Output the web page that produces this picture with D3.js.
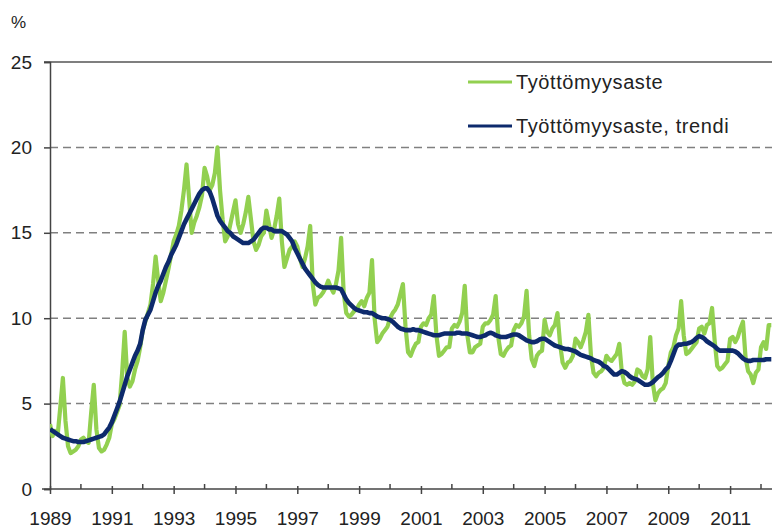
<!DOCTYPE html>
<html><head><meta charset="utf-8">
<script src="https://cdn.jsdelivr.net/npm/d3@7"></script>
<style>
html,body{margin:0;padding:0;background:#fff;}
svg{display:block;font-family:"Liberation Sans",Arial,sans-serif;}
</style></head>
<body><svg id="c" width="772" height="529"></svg>
<script>
const startYear = 1989;
const seriesNames = ["Työttömyysaste", "Työttömyysaste, trendi"];
const yTicks = [0, 5, 10, 15, 20, 25];
const majorYears = [1989,1991,1993,1995,1997,1999,2001,2003,2005,2007,2009,2011];
const minorYears = [1990,1992,1994,1996,1998,2000,2002,2004,2006,2008,2010,2012];

// monthly unemployment rate, Jan 1989 .. May 2012
const rate = [
 3.8,3.1,3.4,3.2,4.8,6.5,4.0,2.5,2.1,2.2,2.3,2.5,
 2.9,3.0,2.8,2.7,4.5,6.1,3.5,2.4,2.2,2.3,2.6,3.0,
 3.8,4.1,4.5,4.9,6.8,9.2,6.5,6.0,6.3,7.0,7.5,8.3,
 9.3,9.8,10.3,10.8,12.0,13.6,12.2,11.0,11.5,12.2,12.9,13.7,
 14.5,14.9,15.4,16.3,17.5,19.0,17.0,15.0,15.6,16.0,16.5,17.2,
 18.8,18.3,17.5,17.8,18.5,20.0,17.5,15.8,14.5,14.8,15.5,16.2,
 16.9,15.5,15.0,15.5,16.2,17.1,15.8,14.5,14.0,14.3,14.8,15.0,
 16.3,15.5,14.7,15.2,16.0,17.0,14.5,13.0,13.5,14.0,14.2,14.5,
 14.2,13.5,13.0,13.5,14.2,15.4,12.0,10.8,11.2,11.3,11.5,11.8,
 12.2,11.8,11.5,12.0,12.8,14.7,11.5,10.3,10.1,10.2,10.4,10.5,
 10.8,11.0,10.7,11.2,11.5,13.4,10.0,8.6,8.8,9.1,9.3,9.5,
 10.0,10.3,10.5,10.8,11.4,12.0,9.5,8.0,7.8,8.2,8.5,8.6,
 9.5,9.7,9.6,10.0,10.2,11.3,9.0,7.8,7.9,8.1,8.3,8.3,
 9.4,9.6,9.5,9.8,10.3,11.9,9.0,8.0,8.0,8.3,8.4,8.5,
 9.5,9.7,9.7,9.9,10.2,11.3,8.9,7.9,7.8,8.1,8.3,8.4,
 9.3,9.6,9.5,9.7,10.1,11.6,9.0,7.6,7.2,7.8,8.0,8.1,
 9.9,9.2,9.0,9.4,9.6,10.3,8.5,7.4,7.1,7.4,7.5,7.8,
 8.8,8.6,8.3,8.7,9.2,10.2,7.8,6.8,6.6,6.8,6.9,7.1,
 7.8,7.6,7.5,7.7,7.9,8.5,6.8,6.2,6.1,6.2,6.1,6.3,
 7.0,6.9,6.6,6.5,7.0,8.9,6.2,5.2,5.6,5.8,5.9,6.2,
 7.2,8.0,8.3,9.0,9.4,11.0,9.0,7.9,8.0,8.2,8.4,8.6,
 9.4,9.5,9.1,9.6,9.7,10.6,8.7,7.2,7.0,7.1,7.3,7.5,
 8.8,8.9,8.6,8.9,9.4,9.8,7.7,6.9,6.7,6.2,6.8,7.0,
 8.3,8.6,8.2,9.6,9.6
];
const trend = [
 3.5,3.4,3.3,3.2,3.1,3.0,2.95,2.9,2.85,2.8,2.8,2.75,
 2.75,2.75,2.8,2.85,2.9,2.95,3.0,3.05,3.1,3.2,3.4,3.6,
 3.9,4.3,4.7,5.1,5.6,6.1,6.6,7.0,7.4,7.8,8.1,8.5,
 9.3,9.9,10.2,10.5,11.0,11.5,11.9,12.2,12.6,13.0,13.3,13.7,
 14.0,14.3,14.7,15.1,15.5,15.8,16.1,16.4,16.7,17.0,17.3,17.5,
 17.6,17.6,17.4,17.0,16.5,16.0,15.7,15.5,15.3,15.1,15.0,14.8,
 14.7,14.6,14.5,14.4,14.4,14.4,14.5,14.6,14.8,15.0,15.2,15.3,
 15.3,15.2,15.2,15.1,15.1,15.1,15.1,15.0,14.9,14.7,14.5,14.1,
 13.8,13.5,13.2,12.9,12.7,12.5,12.3,12.1,11.95,11.85,11.8,11.8,
 11.8,11.8,11.8,11.8,11.75,11.7,11.4,11.1,10.9,10.75,10.6,10.5,
 10.45,10.4,10.35,10.35,10.3,10.3,10.2,10.1,10.05,10.0,10.0,9.95,
 9.9,9.8,9.65,9.5,9.4,9.35,9.3,9.3,9.3,9.35,9.3,9.3,
 9.25,9.2,9.15,9.1,9.05,9.0,9.0,9.0,9.05,9.1,9.1,9.1,
 9.1,9.1,9.15,9.15,9.1,9.1,9.1,9.05,9.0,8.95,8.9,8.9,
 8.95,9.0,9.1,9.15,9.1,9.0,8.95,8.9,8.9,8.9,8.95,9.0,
 9.05,9.05,9.0,8.9,8.8,8.7,8.65,8.6,8.6,8.65,8.75,8.8,
 8.8,8.7,8.6,8.5,8.4,8.35,8.3,8.25,8.2,8.2,8.15,8.1,
 8.05,7.95,7.85,7.8,7.75,7.7,7.65,7.55,7.5,7.45,7.35,7.2,
 7.15,7.0,6.85,6.7,6.7,6.8,6.9,6.85,6.75,6.6,6.5,6.45,
 6.4,6.3,6.2,6.1,6.1,6.15,6.25,6.4,6.55,6.65,6.8,7.0,
 7.15,7.5,7.9,8.3,8.45,8.45,8.5,8.5,8.55,8.6,8.7,8.85,
 8.95,8.9,8.8,8.65,8.55,8.45,8.35,8.2,8.1,8.1,8.1,8.1,
 8.1,8.1,8.05,7.95,7.8,7.65,7.55,7.5,7.5,7.55,7.55,7.55,
 7.55,7.55,7.6,7.6,7.6
];
const colors = ["#92d050", "#0d2a6c"];

const svg = d3.select("#c");
const W = 772, H = 529;
const mLeft = 50, mTop = 62, mBottom = 489;
const x = d3.scaleLinear().domain([1989, 2012]).range([mLeft, 761]);
const y = d3.scaleLinear().domain([0, 25]).range([mBottom, mTop]);

// gridlines
svg.append("g").selectAll("line").data(yTicks.filter(v => v > 0 && v < 25)).join("line")
  .attr("x1", mLeft).attr("x2", W).attr("y1", d => y(d)).attr("y2", d => y(d))
  .attr("stroke", "#808080").attr("stroke-width", 1.5).attr("stroke-dasharray", "8,5");
// top border
svg.append("line").attr("x1", 44).attr("x2", W).attr("y1", y(25)).attr("y2", y(25))
  .attr("stroke", "#555").attr("stroke-width", 1.5);

// y axis
const yAxis = d3.axisLeft(y).tickValues(yTicks).tickSize(6).tickPadding(12).tickFormat(d3.format("d"));
const gy = svg.append("g").attr("transform", `translate(${mLeft},0)`).call(yAxis);
gy.select(".domain").attr("stroke", "#444").attr("stroke-width", 1.5);
gy.selectAll(".tick line").attr("stroke", "#444").attr("stroke-width", 1.5);
gy.selectAll(".tick text").attr("font-size", 19).attr("fill", "#222")
  .attr("font-family", "Liberation Sans, Arial, sans-serif");

svg.append("text").attr("x", 11).attr("y", 28).text("%")
  .attr("font-size", 17).attr("fill", "#222");

// lines
const clip = svg.append("defs").append("clipPath").attr("id", "clp");
clip.append("rect").attr("x", mLeft).attr("y", 0).attr("width", W - mLeft).attr("height", mBottom);
const line = d3.line().x((d, i) => x(startYear + i / 12)).y(d => y(d)).curve(d3.curveLinear);
const g = svg.append("g").attr("clip-path", "url(#clp)");
g.append("path").datum(rate).attr("d", line).attr("fill", "none")
  .attr("stroke", colors[0]).attr("stroke-width", 4.2).attr("stroke-linejoin", "round");
g.append("path").datum(trend).attr("d", line).attr("fill", "none")
  .attr("stroke", colors[1]).attr("stroke-width", 4.6).attr("stroke-linejoin", "round");

// x axis
const xAxisMajor = d3.axisBottom(x).tickValues(majorYears).tickSize(5).tickPadding(18).tickFormat(d3.format("d"));
const gx = svg.append("g").attr("transform", `translate(0,${mBottom})`).call(xAxisMajor);
gx.select(".domain").remove();
gx.selectAll(".tick line").attr("stroke", "#444").attr("stroke-width", 1.5).attr("y1", -3);
gx.selectAll(".tick text").attr("font-size", 19).attr("fill", "#222")
  .attr("font-family", "Liberation Sans, Arial, sans-serif");
svg.append("line").attr("x1", mLeft - 8).attr("x2", W).attr("y1", mBottom).attr("y2", mBottom)
  .attr("stroke", "#444").attr("stroke-width", 1.5);
svg.append("g").selectAll("line").data(minorYears).join("line")
  .attr("x1", d => x(d)).attr("x2", d => x(d)).attr("y1", mBottom - 5).attr("y2", mBottom)
  .attr("stroke", "#444").attr("stroke-width", 1.5);

// legend
const leg = svg.append("g");
seriesNames.forEach((nm, i) => {
  const yy = 82 + i * 44;
  leg.append("rect").attr("x", 470).attr("y", yy - 8).attr("width", 270).attr("height", 16).attr("fill", "#fff");
  leg.append("line").attr("x1", 468).attr("x2", 512).attr("y1", yy).attr("y2", yy)
    .attr("stroke", colors[i]).attr("stroke-width", 3);
  leg.append("text").attr("x", 516).attr("y", yy).attr("dy", "0.36em").text(nm)
    .attr("font-size", 20).attr("letter-spacing", "0.6px").attr("fill", "#222");
});
</script></body></html>
